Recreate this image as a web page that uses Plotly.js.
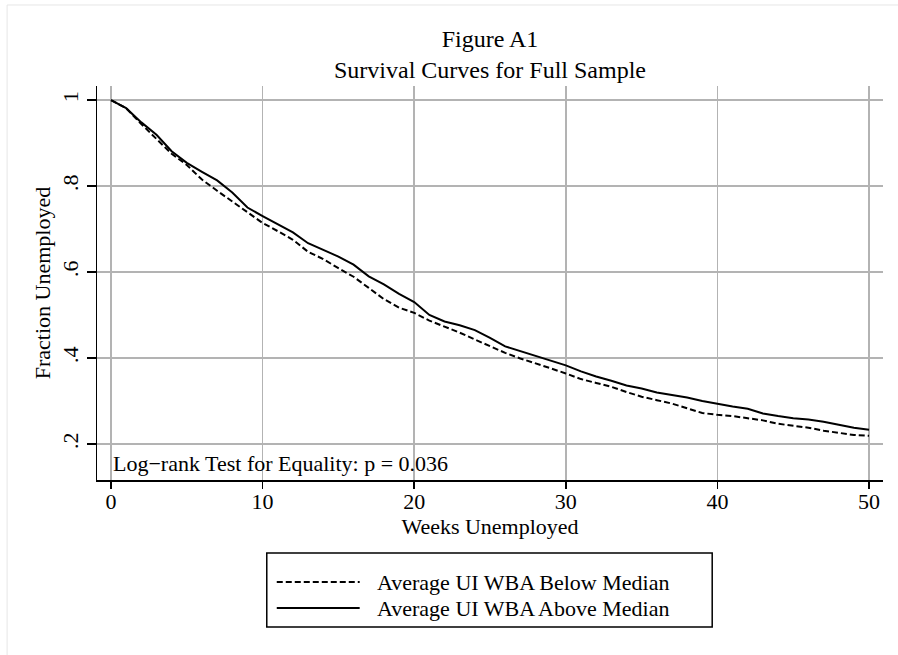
<!DOCTYPE html>
<html>
<head>
<meta charset="utf-8">
<script src="https://cdn.plot.ly/plotly-3.0.1.min.js"></script>
<style>
  html, body { margin: 0; padding: 0; background: #ffffff; }
  #chart { width: 898px; height: 655px; }
</style>
</head>
<body>
<div id="chart"></div>
<script>
// Weeks unemployed (x values)
var weeks = [0,1,2,3,4,5,6,7,8,9,10,11,12,13,14,15,16,17,18,19,20,
             21,22,23,24,25,26,27,28,29,30,31,32,33,34,35,36,37,38,39,40,
             41,42,43,44,45,46,47,48,49,50];

// Survival: Average UI WBA Below Median (dashed)
var belowMedian = [1.000,0.981,0.944,0.909,0.875,0.849,0.815,0.789,0.764,0.738,0.714,
                   0.695,0.675,0.647,0.630,0.609,0.589,0.563,0.537,0.517,0.505,
                   0.487,0.473,0.459,0.443,0.427,0.412,0.399,0.388,0.376,0.364,
                   0.351,0.342,0.333,0.321,0.310,0.302,0.294,0.283,0.272,0.268,
                   0.265,0.260,0.255,0.247,0.242,0.238,0.231,0.226,0.221,0.219];

// Survival: Average UI WBA Above Median (solid)
var aboveMedian = [1.000,0.981,0.948,0.919,0.881,0.854,0.833,0.813,0.785,0.750,0.730,
                   0.711,0.692,0.667,0.652,0.636,0.617,0.590,0.571,0.549,0.530,
                   0.500,0.485,0.476,0.465,0.447,0.427,0.416,0.406,0.394,0.383,
                   0.369,0.357,0.347,0.336,0.329,0.320,0.314,0.308,0.300,0.293,
                   0.287,0.282,0.271,0.265,0.260,0.257,0.252,0.245,0.238,0.233];

var seriesNames = ["Average UI WBA Below Median", "Average UI WBA Above Median"];
var xTickVals = [0,10,20,30,40,50];
var xTickText = ["0","10","20","30","40","50"];
var yTickVals = [0.2,0.4,0.6,0.8,1];
var yTickText = [".2",".4",".6",".8","1"];
var titleLines = ["Figure A1", "Survival Curves for Full Sample"];
var xTitle = "Weeks Unemployed";
var yTitle = "Fraction Unemployed";
var noteText = "Log\u2212rank Test for Equality: p = 0.036";

var FONT = "Liberation Serif, Times New Roman, serif";

var traces = [
  {
    x: weeks, y: belowMedian, name: seriesNames[0], type: "scatter", mode: "lines",
    line: {color: "#000000", width: 2, dash: "6px,3px"}, showlegend: false
  },
  {
    x: weeks, y: aboveMedian, name: seriesNames[1], type: "scatter", mode: "lines",
    line: {color: "#000000", width: 2}, showlegend: false
  }
];

// legend geometry (paper coords)
var lgX0 = 0.216, lgX1 = 0.7827, lgY0 = -0.1853, lgY1 = -0.3731;
var smpX0 = 0.2287, smpX1 = 0.3342, rowY = [-0.2589, -0.3249], txtX = 0.3532;

var layout = {
  width: 898, height: 655,
  paper_bgcolor: "#ffffff", plot_bgcolor: "#ffffff",
  margin: {l: 97, r: 15, t: 86, b: 175, pad: 0},
  font: {family: FONT, size: 22, color: "#000000"},
  title: {
    text: titleLines.join("<br>"),
    font: {family: FONT, size: 24, color: "#000000"},
    x: 0.5, xref: "paper", xanchor: "center",
    y: 0.929, yref: "container", yanchor: "middle"
  },
  xaxis: {
    range: [-0.923, 50.92],
    tickmode: "array", tickvals: xTickVals, ticktext: xTickText,
    ticks: "outside", ticklen: 7, tickwidth: 1.5, tickcolor: "#000000",
    ticklabelstandoff: -6,
    showline: true, linecolor: "#000000", linewidth: 1.5,
    showgrid: true, gridcolor: "#b3b3b3", gridwidth: 1.5,
    zeroline: false,
    tickfont: {family: FONT, size: 22},
    title: {text: xTitle, font: {family: FONT, size: 22}, standoff: 4}
  },
  yaxis: {
    range: [0.1163, 1.0326],
    tickmode: "array", tickvals: yTickVals, ticktext: yTickText,
    tickangle: -90,
    ticks: "outside", ticklen: 9, tickwidth: 1.5, tickcolor: "#000000",
    showline: true, linecolor: "#000000", linewidth: 1.5,
    showgrid: true, gridcolor: "#b3b3b3", gridwidth: 1.5,
    zeroline: false,
    tickfont: {family: FONT, size: 22},
    title: {text: yTitle, font: {family: FONT, size: 22}, standoff: 1}
  },
  showlegend: false,
  shapes: [
    // faint outer graph-region frame
    {type: "rect", xref: "paper", yref: "paper", x0: -0.1144, x1: 1.03, y0: -0.46, y1: 1.2056,
     line: {color: "#e6e6e6", width: 1}, layer: "below"},
    // legend box
    {type: "rect", xref: "paper", yref: "paper", x0: lgX0, x1: lgX1, y0: lgY0, y1: lgY1,
     line: {color: "#000000", width: 1.5}, fillcolor: "rgba(0,0,0,0)"},
    // legend samples
    {type: "line", xref: "paper", yref: "paper", x0: smpX0, x1: smpX1, y0: rowY[0], y1: rowY[0],
     line: {color: "#000000", width: 2, dash: "6px,3px"}},
    {type: "line", xref: "paper", yref: "paper", x0: smpX0, x1: smpX1, y0: rowY[1], y1: rowY[1],
     line: {color: "#000000", width: 2}}
  ],
  annotations: [
    {text: noteText, xref: "paper", yref: "paper", x: 0.018, y: 0.043,
     xanchor: "left", yanchor: "middle", showarrow: false,
     font: {family: FONT, size: 22, color: "#000000"}},
    {text: seriesNames[0], xref: "paper", yref: "paper", x: txtX, y: rowY[0],
     xanchor: "left", yanchor: "middle", showarrow: false,
     font: {family: FONT, size: 22, color: "#000000"}},
    {text: seriesNames[1], xref: "paper", yref: "paper", x: txtX, y: rowY[1],
     xanchor: "left", yanchor: "middle", showarrow: false,
     font: {family: FONT, size: 22, color: "#000000"}}
  ]
};

Plotly.newPlot("chart", traces, layout, {displayModeBar: false, staticPlot: true});
</script>
</body>
</html>
